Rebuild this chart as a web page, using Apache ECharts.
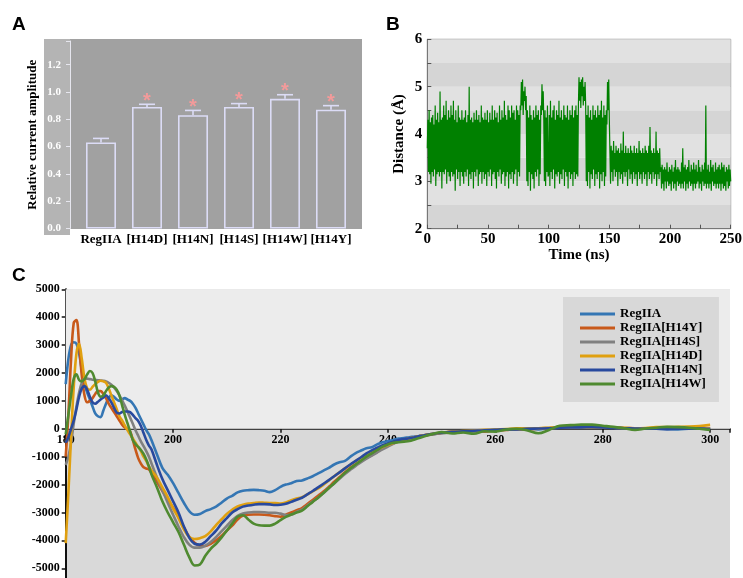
<!DOCTYPE html>
<html>
<head>
<meta charset="utf-8">
<script src="https://cdn.jsdelivr.net/npm/echarts@6/dist/echarts.min.js"></script>
<style>
html,body{margin:0;padding:0;background:#fff;}
#chart{width:743px;height:578px;}
</style>
</head>
<body>
<div id="chart"></div>
<script>
// ---------- Panel A data ----------
const barCategories = ['RegIIA', '[H14D]', '[H14N]', '[H14S]', '[H14W]', '[H14Y]'];
const barValues = [0.63, 0.89, 0.83, 0.89, 0.95, 0.87];
const barErrors = [0.03, 0.02, 0.035, 0.025, 0.03, 0.03];
const barSignificant = [false, true, true, true, true, true];
const ampTickLabels = ['0.0', '0.2', '0.4', '0.6', '0.8', '1.0', '1.2'];

// ---------- Panel B data (distance, Å, sampled every 0.5 ns from 0 to 250 ns) ----------
const timeStepNs = 0.5;
const timeTickLabels = ['0', '50', '100', '150', '200', '250'];
const distanceValues = [
  3.7,4.3,3.2,4.5,3.15,4.25,2.95,4.35,3.2,4.4,3.1,4.2,3.25,4.6,2.9,4.3,3.15,4.45,3.2,4.25,
  3.1,4.9,3.2,4.3,2.85,4.35,3.2,4.6,3.15,4.4,3.25,4.7,2.95,4.3,3.2,4.5,3.1,4.35,3.0,4.6,
  3.2,4.4,3.1,4.7,3.15,4.3,2.8,4.5,3.25,4.25,3.05,4.6,3.2,4.35,2.9,4.3,3.2,4.5,3.1,4.3,
  2.95,4.35,3.2,4.5,3.1,4.25,3.25,4.4,2.9,5.0,3.15,4.3,3.05,4.35,3.2,4.25,2.85,4.45,3.2,4.3,
  3.1,4.5,3.25,4.3,2.9,4.4,3.15,4.25,3.2,4.6,2.95,4.35,3.2,4.3,3.05,4.45,3.15,4.3,2.9,4.5,
  3.2,4.25,3.1,4.45,3.25,4.3,2.9,4.6,3.15,4.3,3.2,4.5,3.05,4.35,2.85,4.45,3.2,4.25,3.1,4.6,
  3.25,4.3,2.95,4.5,3.15,4.35,3.2,4.7,2.9,4.4,3.1,4.3,3.2,4.6,2.85,4.5,3.15,4.35,3.05,4.6,
  3.2,4.45,2.95,4.5,3.15,4.3,3.25,4.6,2.9,4.5,3.2,4.4,3.1,4.6, 4.5,5.1,4.6,5.15,4.4,4.9,
  4.7,5.0,4.5,4.8, 3.0,4.5,2.9,4.35,3.2,4.6,2.8,4.4,3.15,4.3,3.05,4.5,2.85,4.35,3.2,4.6,
  3.1,4.4,3.25,4.5,2.9,4.3,3.15,4.6, 4.4,5.05,4.5,4.9,4.3, 3.0,4.5,2.9,4.35,3.2,4.6,3.1,
  3.15,4.4,2.9,4.7,3.2,4.35,3.05,4.5,3.25,4.6,2.85,4.3,3.15,4.5,3.1,4.4,3.2,4.7,2.95,4.35,
  3.15,4.5,3.05,4.3,3.25,4.6,2.9,4.4,3.2,4.35,3.1,4.6,2.85,4.3,3.2,4.5,3.05,4.4,3.15,4.6,
  2.9,4.35,3.2,4.5,3.05,4.6,3.15,4.4,3.1, 4.6,5.2,4.7,5.1,4.55,5.15,4.8,5.2,4.6,5.0,4.7,
  5.1,4.6, 3.0,4.4,2.9,4.6,3.2,4.35,2.85,4.5,3.15,4.3,3.05,4.6,3.25,4.4,2.9,4.5,3.15,4.35,
  3.05,4.6,3.2,4.4,2.85,4.5,3.15,4.7,3.0,4.35,3.2,4.6,2.9,4.4,3.1,4.5, 4.2,5.1,4.5,5.15,
  4.3,3.6, 2.95,3.75,3.2,3.65,3.0,3.85,3.25,3.6,3.1,3.75,3.2,3.65,2.9,3.7,3.2,3.6,3.05,3.8,
  3.15,3.65,2.95,4.05,3.2,3.6,3.1,3.75,3.2,3.6,2.9,3.7,3.25,3.6,3.05,3.75,3.15,3.65,2.95,3.6,
  3.2,3.75,3.05,3.6,3.15,3.7,2.9,3.6,3.2,3.85,3.05,3.65,3.15,3.6,2.95,3.7,3.2,3.6,3.05,3.75,
  3.15,3.65,2.9,3.6,3.2,3.75,3.05,4.15,3.15,3.65,2.95,3.6,3.2,3.7,3.05,3.6,3.15,4.05,2.9,3.65,
  3.15,3.6,3.05,3.7,3.2,3.3,2.85,3.35,2.95,3.25,2.8,3.3,3.0,3.25,2.85,3.4,3.0,3.2,2.9,3.3,
  2.95,3.25,2.8,3.35,3.0,3.2,2.85,3.3,2.95,3.45,2.8,3.25,3.0,3.3,2.9,3.25,2.95,3.2,2.85,3.4,
  2.95,3.7,2.85,3.3,3.0,3.35,2.8,3.25,2.95,3.3,2.85,3.45,3.0,3.2,2.9,3.35,2.95,3.25,2.8,3.4,
  2.95,3.25,2.85,3.35,2.95,3.2,3.0,3.45,2.85,3.3,2.95,3.2,2.8,3.35,3.0,3.25,2.9,3.4,2.95,4.6,
  2.85,3.25,2.95,3.35,2.85,3.2,2.95,3.45,2.8,3.3,3.0,3.35,2.9,3.2,2.95,3.4,2.85,3.25,2.95,3.3,
  2.85,3.35,2.95,3.25,2.8,3.4,2.95,3.3,2.85,3.35,2.9,3.2,2.8,3.3,3.0,3.25,2.85,3.35,2.9,3.25,
  3.0
];

// ---------- Panel C data (CD spectra) ----------
const cdSeriesNames = ['RegIIA', 'RegIIA[H14Y]', 'RegIIA[H14S]', 'RegIIA[H14D]', 'RegIIA[H14N]', 'RegIIA[H14W]'];
const wavelengths = [
  180,180.5,181,181.5,182,182.5,183,183.5,184,184.5,185,185.5,186,186.5,187,187.5,188,188.5,189,189.5,
  190,190.5,191,191.5,192,192.5,193,193.5,194,194.5,195,195.5,196,
  197,198,199,200,201,202,203,204,205,206,207,208,209,210,211,212,213,214,215,216,217,218,219,220,
  221,222,223,224,225,226,227,228,229,230,231,232,233,234,235,236,237,238,239,240,241,242,243,244,245,246,
  248,250,252,254,256,258,260,262,264,266,268,270,272,274,276,278,280,282,284,286,288,290,292,294,296,298,300
];
const cdRegIIA = [
  1600,2500,3000,3100,3050,2700,2100,1600,1300,1050,800,550,450,420,650,900,1100,1200,1150,1050,
  1000,1050,1100,1050,1000,900,750,550,350,150,-50,-200,-420,
  -920,-1400,-1650,-1950,-2300,-2650,-2950,-3080,-3050,-2950,-2880,-2790,-2650,-2500,-2400,-2280,-2220,-2200,-2190,-2200,-2220,-2270,-2200,-2080,
  -2000,-1950,-1870,-1850,-1780,-1700,-1600,-1500,-1400,-1280,-1200,-1150,-1000,-870,-780,-700,-660,-560,-480,-440,-400,-350,-330,-300,-280,-250,
  -200,-150,-120,-100,-80,-60,-40,-20,0,10,-20,20,40,60,60,70,50,40,20,0,0,0,-10,-20,0,10,0
];
const cdH14Y = [
  -1000,500,2500,3800,3900,3000,1900,1200,950,1000,1100,1250,1350,1350,1250,1100,900,750,600,450,
  300,150,50,0,-100,-400,-750,-1050,-1250,-1380,-1420,-1450,-1600,
  -1900,-2230,-2530,-2830,-3150,-3520,-3870,-4080,-4190,-4200,-4120,-4000,-3840,-3650,-3470,-3250,-3110,-3080,-3070,-3070,-3080,-3100,-3130,-3150,
  -3080,-3000,-2920,-2840,-2700,-2550,-2400,-2250,-2080,-1900,-1730,-1560,-1400,-1270,-1150,-1050,-940,-820,-700,-600,-520,-450,-400,-350,-300,-260,
  -200,-150,-100,-90,-80,-100,-60,-40,-20,-20,0,20,50,60,70,60,60,40,30,20,10,20,20,10,20,30,20
];
const cdH14S = [
  -1300,-1000,-500,200,800,1300,1650,1800,1800,1780,1760,1750,1740,1730,1720,1700,1650,1580,1480,1350,
  1200,1020,830,620,400,180,-50,-250,-450,-620,-800,-1000,-1250,
  -1750,-2200,-2650,-3080,-3500,-3880,-4150,-4260,-4260,-4190,-4060,-3880,-3680,-3480,-3280,-3120,-3040,-3000,-2980,-2980,-2990,-3010,-3010,-3040,
  -3090,-3080,-2980,-2900,-2750,-2600,-2470,-2300,-2130,-1960,-1790,-1620,-1470,-1330,-1200,-1070,-960,-850,-740,-640,-540,-460,-400,-350,-300,-260,
  -210,-160,-130,-110,-100,-80,-50,-30,-10,0,10,30,50,60,60,60,50,40,20,10,0,10,10,0,10,20,10
];
const cdH14D = [
  -4100,-2300,-300,1500,2700,3050,2500,1800,1450,1400,1500,1600,1680,1720,1700,1650,1450,1200,950,700,
  450,300,120,-50,-200,-350,-500,-650,-800,-1000,-1150,-1350,-1500,
  -1750,-2100,-2450,-2850,-3200,-3600,-3880,-3950,-3920,-3850,-3680,-3450,-3250,-3050,-2900,-2780,-2720,-2680,-2660,-2640,-2650,-2660,-2660,-2680,
  -2640,-2560,-2500,-2450,-2350,-2240,-2140,-2000,-1850,-1700,-1560,-1420,-1290,-1160,-1040,-920,-830,-740,-650,-580,-510,-440,-390,-340,-300,-260,
  -190,-140,-100,-80,-60,-40,-30,-10,20,10,20,40,60,70,60,50,60,40,40,20,30,60,60,70,80,100,140
];
const cdH14N = [
  -500,-300,0,300,700,1150,1450,1530,1400,1150,950,900,970,1050,1120,1200,1100,950,750,580,
  550,600,620,620,600,500,380,280,100,-150,-400,-600,-750,
  -1300,-1800,-2200,-2600,-3000,-3500,-3900,-4120,-4150,-4050,-3850,-3650,-3400,-3200,-3000,-2880,-2790,-2750,-2720,-2700,-2700,-2710,-2730,-2720,
  -2690,-2620,-2540,-2470,-2350,-2230,-2100,-1970,-1840,-1700,-1560,-1420,-1280,-1150,-1020,-880,-770,-680,-590,-520,-460,-400,-370,-340,-300,-260,
  -190,-140,-110,-90,-70,-50,-40,-20,-20,0,10,20,40,50,50,60,50,30,20,10,0,0,-10,0,0,10,-30
];
const cdH14W = [
  -200,500,1200,1800,1950,1750,1700,1780,1950,2070,2000,1700,1300,1150,1200,1350,1480,1530,1500,1400,
  1200,850,500,200,-100,-400,-550,-650,-760,-900,-1100,-1350,-1650,
  -2100,-2600,-3000,-3350,-3700,-4150,-4600,-4900,-4860,-4550,-4300,-4120,-3900,-3650,-3400,-3150,-3100,-3250,-3400,-3460,-3470,-3470,-3400,-3270,
  -3160,-3070,-3000,-2930,-2780,-2620,-2470,-2300,-2120,-1950,-1760,-1580,-1420,-1280,-1140,-1000,-880,-760,-640,-560,-500,-480,-460,-440,-380,-320,
  -200,-120,-170,-130,-180,-90,-100,-30,0,-60,-160,-40,110,130,150,150,110,70,20,-40,10,40,70,60,40,0,-40
];
const cdSeriesValues = [cdRegIIA, cdH14Y, cdH14S, cdH14D, cdH14N, cdH14W];
const cdColors = ['#3476b4', '#c8591a', '#808080', '#e0a010', '#28499e', '#4f8a30'];

// ---------- Styling ----------
const SERIF = "'Liberation Serif','Times New Roman',serif";
const SANS = "'Liberation Sans',Arial,sans-serif";

function isMultiple(v, step) {
  const r = v / step;
  return Math.abs(r - Math.round(r)) < 1e-6;
}

// Panel C axis extents & grid
const cdYMin = -6000, cdYMax = 5000;
const cdGrid = { left: 65.7, top: 289.3, width: 664.3, height: 306.9 };
// bottom axis lifted up to sit on the zero line
const cdXAxisOffset = -cdGrid.height * (0 - cdYMin) / (cdYMax - cdYMin);

const chart = echarts.init(document.getElementById('chart'), null, { renderer: 'canvas' });

const cdSeries = cdSeriesNames.map((name, k) => {
  const s = {
    name: name,
    type: 'line',
    xAxisIndex: 2,
    yAxisIndex: 2,
    data: wavelengths.map((w, i) => [w, cdSeriesValues[k][i]]),
    showSymbol: false,
    symbol: 'none',
    smooth: 0.35,
    lineStyle: { color: cdColors[k], width: 2.6 },
    itemStyle: { color: cdColors[k] },
    z: 3 + k
  };
  if (k === 0) {
    s.markArea = {
      silent: true,
      z: 1,
      itemStyle: { color: '#ececec' },
      data: [[{ yAxis: 0 }, { yAxis: cdYMax }]]
    };
  }
  return s;
});

const option = {
  animation: false,
  graphic: {
    elements: [
      { type: 'rect', z: -1, shape: { x: 44, y: 39, width: 26, height: 196 }, style: { fill: '#b4b4b4' } },
      { type: 'rect', z: -1, shape: { x: 70, y: 39, width: 292, height: 190 }, style: { fill: '#a1a1a1' } },
      { type: 'text', left: 12, top: 15, style: { text: 'A', font: 'bold 19px ' + SANS, fill: '#000' } },
      { type: 'text', left: 386, top: 15, style: { text: 'B', font: 'bold 19px ' + SANS, fill: '#000' } },
      { type: 'text', left: 12, top: 266, style: { text: 'C', font: 'bold 19px ' + SANS, fill: '#000' } }
    ]
  },
  legend: {
    data: cdSeriesNames,
    orient: 'vertical',
    left: 563,
    top: 297,
    backgroundColor: '#d8d8d8',
    padding: [10, 13, 11, 17],
    itemWidth: 35,
    itemHeight: 3,
    itemGap: 0,
    icon: 'rect',
    textStyle: { fontFamily: SERIF, fontWeight: 'bold', fontSize: 13, color: '#000', lineHeight: 14, padding: [0, 0, 0, 0] },
    selectedMode: false
  },
  grid: [
    { left: 78, top: 41, width: 276, height: 187.5, containLabel: false, outerBoundsMode: 'none' },
    { left: 427.3, top: 39.3, width: 303.4, height: 189.4, show: true, borderColor: '#888', borderWidth: 1, backgroundColor: 'transparent', containLabel: false, outerBoundsMode: 'none' },
    { left: cdGrid.left, top: cdGrid.top, width: cdGrid.width, height: cdGrid.height, show: true, borderWidth: 0, backgroundColor: '#d9d9d9', containLabel: false, outerBoundsMode: 'none' }
  ],
  xAxis: [
    {
      gridIndex: 0, type: 'category', data: barCategories,
      axisLine: { show: false }, axisTick: { show: false },
      axisLabel: { color: '#000', fontFamily: SERIF, fontWeight: 'bold', fontSize: 13, margin: 5, interval: 0 }
    },
    {
      gridIndex: 1, type: 'value', min: 0, max: 250, interval: 25,
      axisLine: { show: true, lineStyle: { color: '#777', width: 1 } },
      axisTick: { show: true, inside: true, length: 4, lineStyle: { color: '#555' } },
      axisLabel: {
        color: '#000', fontFamily: SERIF, fontWeight: 'bold', fontSize: 15, margin: 3,
        formatter: v => (timeTickLabels.indexOf(String(v)) >= 0 ? String(v) : '')
      },
      splitLine: { show: false },
      name: 'Time (ns)', nameLocation: 'middle', nameGap: 17,
      nameTextStyle: { color: '#000', fontFamily: SERIF, fontWeight: 'bold', fontSize: 15 }
    },
    {
      gridIndex: 2, type: 'value', min: 180, max: 303.7, interval: 20,
      position: 'bottom', offset: cdXAxisOffset,
      axisLine: { show: true, onZero: false, lineStyle: { color: '#111', width: 1.5 } },
      axisTick: { show: true, length: 4, lineStyle: { color: '#111', width: 1.5 } },
      axisLabel: {
        color: '#000', fontFamily: SERIF, fontWeight: 'bold', fontSize: 12, margin: 5,
        formatter: v => (isMultiple(v, 20) ? String(v) : '')
      },
      splitLine: { show: false }
    }
  ],
  yAxis: [
    {
      gridIndex: 0, type: 'value', min: 0, max: 1.3736, interval: 0.2, offset: 8,
      axisLine: { show: true, lineStyle: { color: '#e6e6ee', width: 1 } },
      axisTick: { show: true, length: 4, lineStyle: { color: '#e6e6ee' } },
      axisLabel: {
        color: '#fff', fontFamily: SERIF, fontWeight: 'bold', fontSize: 11, margin: 9,
        formatter: v => {
          if (!isMultiple(v, 0.2)) return '';
          const i = Math.round(v / 0.2);
          return ampTickLabels[i] || '';
        }
      },
      splitLine: { show: false },
      name: 'Relative current amplitude', nameLocation: 'middle', nameGap: 31,
      nameTextStyle: { color: '#000', fontFamily: SERIF, fontWeight: 'bold', fontSize: 13 }
    },
    {
      gridIndex: 1, type: 'value', min: 2, max: 6, interval: 0.5,
      axisLine: { show: true, lineStyle: { color: '#777', width: 1 } },
      axisTick: { show: true, inside: true, length: 4, lineStyle: { color: '#555' } },
      axisLabel: {
        color: '#000', fontFamily: SERIF, fontWeight: 'bold', fontSize: 15, margin: 5,
        formatter: v => (isMultiple(v, 1) ? String(v) : '')
      },
      splitLine: { show: false },
      splitArea: { show: true, areaStyle: { color: ['#d5d5d5', '#e1e1e1'] } },
      name: 'Distance (Å)', nameLocation: 'middle', nameGap: 21,
      nameTextStyle: { color: '#000', fontFamily: SERIF, fontWeight: 'bold', fontSize: 15 }
    },
    {
      gridIndex: 2, type: 'value', min: cdYMin, max: cdYMax, interval: 1000,
      axisLine: { show: true, onZero: false, lineStyle: { color: '#111', width: 2 } },
      axisTick: { show: true, length: 4, lineStyle: { color: '#111', width: 1.5 } },
      axisLabel: { color: '#000', fontFamily: SERIF, fontWeight: 'bold', fontSize: 12, margin: 6, formatter: v => String(v) },
      splitLine: { show: false }
    }
  ],
  series: [
    {
      type: 'bar', xAxisIndex: 0, yAxisIndex: 0,
      data: barValues,
      barWidth: 30,
      itemStyle: { color: 'rgba(0,0,0,0)', borderColor: '#dcdcf6', borderWidth: 1.6 },
      z: 3
    },
    {
      type: 'custom', xAxisIndex: 0, yAxisIndex: 0,
      data: barValues.map((v, i) => [i, v, barErrors[i], barSignificant[i] ? 1 : 0]),
      z: 4,
      renderItem: function (params, api) {
        const idx = api.value(0);
        const v = api.value(1);
        const e = api.value(2);
        const sig = api.value(3);
        const base = api.coord([idx, v]);
        const top = api.coord([idx, v + e]);
        const stroke = { stroke: '#dcdcf6', lineWidth: 1.6 };
        const children = [
          { type: 'line', shape: { x1: base[0], y1: base[1], x2: top[0], y2: top[1] }, style: stroke },
          { type: 'line', shape: { x1: top[0] - 8, y1: top[1], x2: top[0] + 8, y2: top[1] }, style: stroke }
        ];
        if (sig) {
          children.push({
            type: 'text',
            style: {
              text: '*', x: top[0], y: top[1] - 3,
              font: 'bold 20px ' + SANS, fill: '#f29a9a',
              textAlign: 'center', textVerticalAlign: 'middle'
            }
          });
        }
        return { type: 'group', children: children };
      }
    },
    {
      type: 'line', xAxisIndex: 1, yAxisIndex: 1,
      data: distanceValues.map((v, i) => [i * timeStepNs, v]),
      showSymbol: false, symbol: 'none',
      lineStyle: { color: '#008000', width: 1.2 },
      z: 3
    }
  ].concat(cdSeries)
};

chart.setOption(option);
</script>
</body>
</html>
